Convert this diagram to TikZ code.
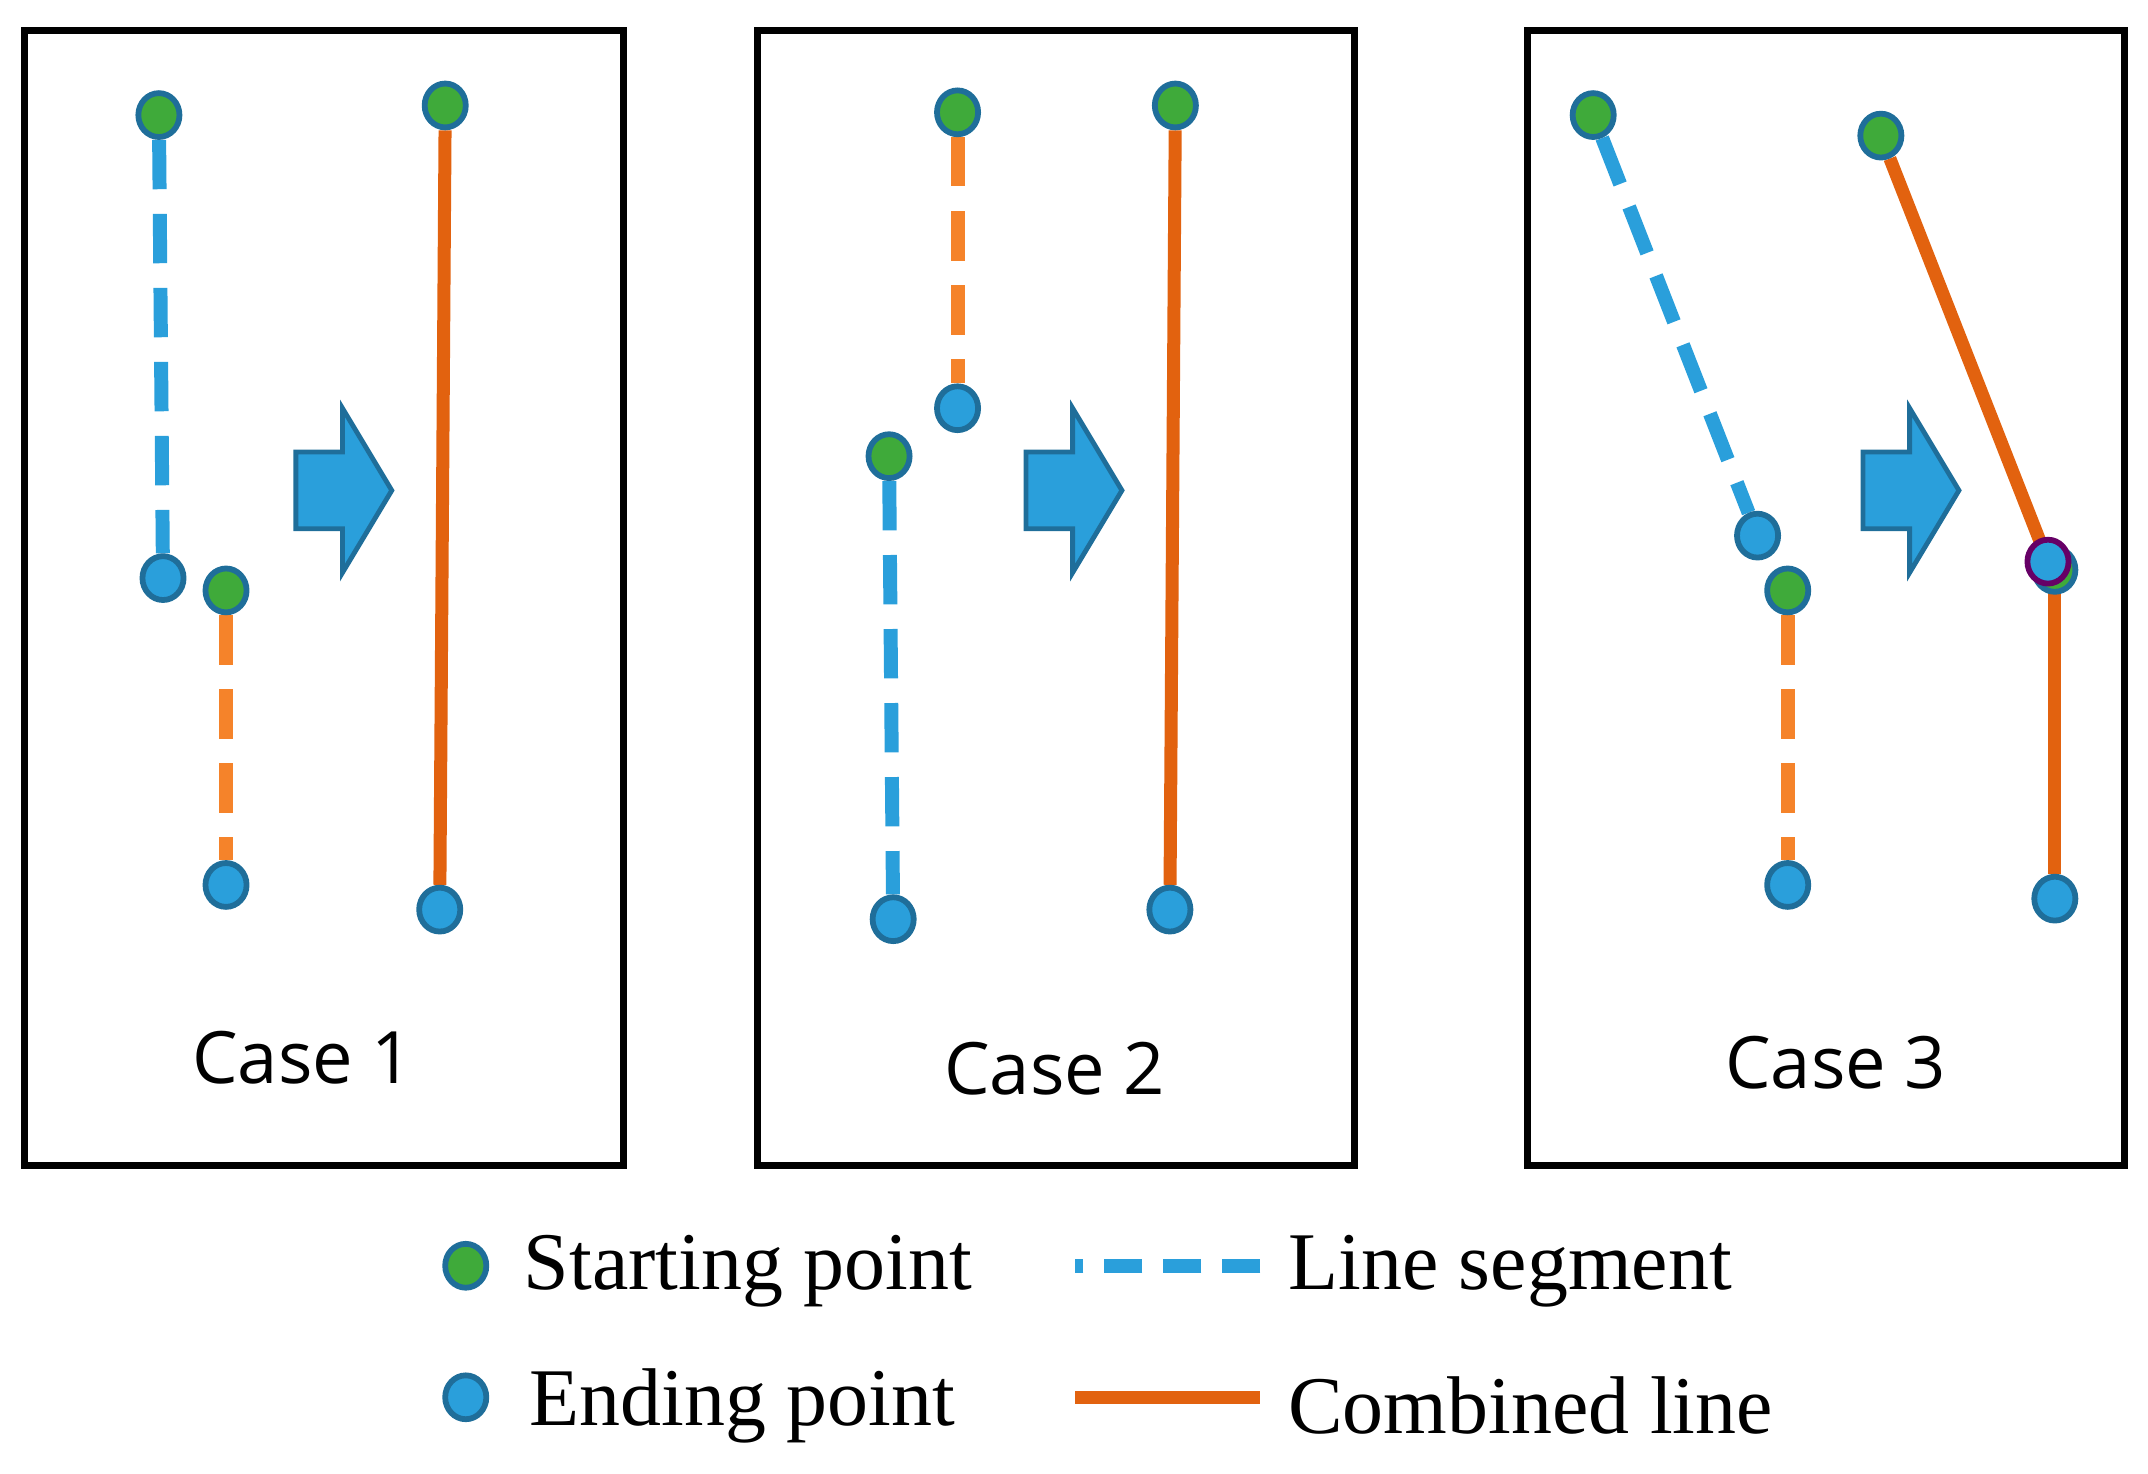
\documentclass[tikz,border=0pt]{standalone}
\usepackage{fontspec}
\setmainfont{Liberation Serif}
\newfontfamily\sansf{Open Sans}
\usetikzlibrary{shapes.geometric,backgrounds}
\definecolor{gr}{HTML}{3FAA3A}
\definecolor{bl}{HTML}{2A9FDB}
\definecolor{ed}{HTML}{1F6E9A}
\definecolor{orl}{HTML}{F5832A}
\definecolor{ord}{HTML}{E2620F}
\begin{document}
\begin{tikzpicture}[x=0.01cm,y=-0.01cm,
 st/.style={ellipse,fill=gr,draw=ed,line width=1.2pt,minimum width=0.3cm,minimum height=0.32cm,inner sep=0pt},
 en/.style={ellipse,fill=bl,draw=ed,line width=1.2pt,minimum width=0.3cm,minimum height=0.32cm,inner sep=0pt},
 bseg/.style={bl,line width=2.9pt,dash pattern=on 0.36cm off 0.18cm},
 oseg/.style={orl,line width=2.9pt,dash pattern=on 0.36cm off 0.18cm},
 comb/.style={ord,line width=2.7pt},
 box/.style={draw,line width=1.4pt},
 arr/.style={fill=bl,draw=ed,line width=1pt},
 casel/.style={font=\sansf\fontsize{15}{17}\selectfont},
 leg/.style={font=\fontsize{17}{20}\selectfont,anchor=west}]
\useasboundingbox (0,0) rectangle (1568,1076);
\draw[box] (18,22) rectangle (455,851);
\draw[box] (553,22) rectangle (989,851);
\draw[box] (1115,22) rectangle (1551,851);
% arrows
\foreach \x in {216,749,1360}{
 \draw[arr] (\x,330) -- ++(34,0) -- ++(0,-32) -- ++(36,60) -- ++(-36,60) -- ++(0,-32) -- ++(-34,0) -- cycle;}
% Case 1
\node[st] (a1) at (116,84) {};
\node[en] (a2) at (119,422) {};
\node[st] (a3) at (165,431) {};
\node[en] (a4) at (165,646) {};
\node[st] (a5) at (325,77) {};
\node[en] (a6) at (321,664) {};
\node[casel] (c1) at (221,772) {Case 1};
% Case 2
\node[st] (b1) at (699,82) {};
\node[en] (b2) at (699,298) {};
\node[st] (b3) at (649,333) {};
\node[en] (b4) at (652,671) {};
\node[st] (b5) at (858,77) {};
\node[en] (b6) at (854,664) {};
\node[casel] (c2) at (770,780) {Case 2};
% Case 3
\node[st] (d1) at (1163,84) {};
\node[en] (d2) at (1283,391) {};
\node[st] (d3) at (1305,431) {};
\node[en] (d4) at (1305,646) {};
\node[st] (d5) at (1373,99) {};
\node[st] (d6) at (1500,416) {};
\node[en,draw=violet!80!black] (d7) at (1495,410) {};
\node[en] (d8) at (1500,656) {};
\node[casel] (c3) at (1340,776) {Case 3};
% Legend
\node[st] (l1) at (340,924) {};
\node[leg] (t1) at (370,928) {Starting point};
\node[en] (l2) at (340,1020) {};
\node[leg] (t2) at (374,1026) {Ending point};
\coordinate (p1) at (785,924);
\coordinate (p2) at (920,924);
\coordinate (q1) at (785,1020);
\coordinate (q2) at (920,1020);
\node[leg] (t3) at (928,928) {Line segment};
\node[leg] (t4) at (928,1026) {Combined line};
\begin{scope}[on background layer]
\draw[bseg] (a1) -- (a2);
\draw[oseg] (a3) -- (a4);
\draw[comb] (a5) -- (a6);
\draw[oseg] (b1) -- (b2);
\draw[bseg] (b3) -- (b4);
\draw[comb] (b5) -- (b6);
\draw[bseg] (d1) -- (d2);
\draw[oseg] (d3) -- (d4);
\draw[comb] (d5) -- (d7.center);
\draw[comb] (d6.center) -- (d8);
\draw[bl,line width=2.9pt,dash pattern=on 0.28cm off 0.15cm] (p2) -- (p1);
\draw[comb] (q1) -- (q2);
\end{scope}
\end{tikzpicture}
\end{document}
